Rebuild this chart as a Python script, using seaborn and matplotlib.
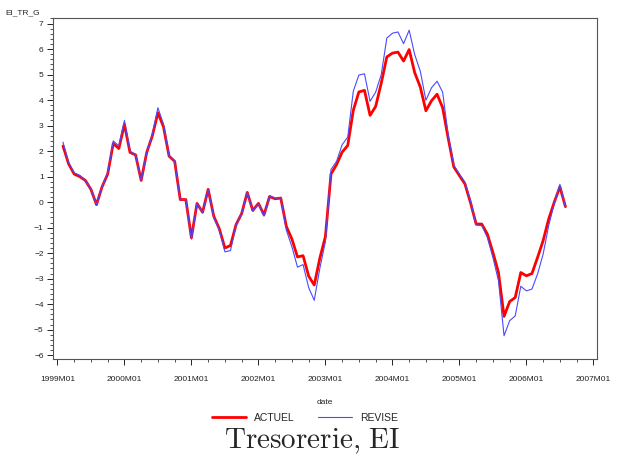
import matplotlib
matplotlib.use("Agg")
import matplotlib.pyplot as plt
import numpy as np
import pandas as pd
import seaborn as sns
from matplotlib.ticker import MultipleLocator

# data - monthly, 1999M02 .. 2006M08 (month index from 1999M01 = 0)
months = list(range(1, 92))
actuel = [2.2, 1.5, 1.1, 1.0, 0.85, 0.5, -0.1, 0.6, 1.1, 2.3, 2.1, 3.05,
          1.95, 1.85, 0.85, 1.95, 2.6, 3.5, 2.95, 1.8, 1.6, 0.1, 0.1, -1.4,
          -0.05, -0.4, 0.5, -0.55, -1.05, -1.8, -1.7, -0.88, -0.45, 0.38, -0.33, -0.05,
          -0.5, 0.22, 0.13, 0.16, -0.95, -1.45, -2.15, -2.1, -2.9, -3.25, -2.2, -1.35,
          1.1, 1.47, 1.96, 2.22, 3.6, 4.32, 4.38, 3.4, 3.75, 4.66, 5.69, 5.84,
          5.88, 5.53, 5.98, 5.07, 4.51, 3.58, 3.97, 4.23, 3.7, 2.5, 1.38, 1.04,
          0.71, -0.03, -0.86, -0.86, -1.25, -1.97, -2.76, -4.48, -3.9, -3.74, -2.76, -2.89,
          -2.8, -2.17, -1.51, -0.66, 0.0, 0.6, -0.18]
revise = [2.35, 1.55, 1.15, 1.05, 0.85, 0.5, -0.1, 0.6, 1.15, 2.4, 2.2, 3.2,
          2.0, 1.85, 0.85, 1.95, 2.65, 3.7, 3.05, 1.8, 1.6, 0.1, 0.1, -1.45,
          -0.05, -0.4, 0.5, -0.6, -1.1, -1.95, -1.9, -0.9, -0.45, 0.38, -0.35, -0.05,
          -0.55, 0.25, 0.15, 0.18, -1.1, -1.75, -2.55, -2.45, -3.35, -3.85, -2.6, -1.55,
          1.28, 1.6, 2.25, 2.55, 4.35, 4.98, 5.03, 3.95, 4.31, 5.0, 6.43, 6.62,
          6.67, 6.21, 6.74, 5.78, 5.13, 3.99, 4.48, 4.74, 4.31, 2.62, 1.45, 1.1,
          0.78, 0.05, -0.9, -0.92, -1.38, -2.17, -3.08, -5.24, -4.65, -4.46, -3.3, -3.48,
          -3.41, -2.82, -2.04, -0.92, -0.05, 0.7, -0.2]
year_labels = ["1999M01", "2000M01", "2001M01", "2002M01", "2003M01",
               "2004M01", "2005M01", "2006M01", "2007M01"]

df = pd.DataFrame({"date": months, "ACTUEL": actuel, "REVISE": revise})

sns.set_style("white")
plt.rcParams["font.family"] = ["Liberation Sans", "DejaVu Sans"]
plt.rcParams["mathtext.fontset"] = "cm"

fig = plt.figure(figsize=(6.24, 4.61), dpi=100)
ax = fig.add_axes([0.0855, 0.2213, 0.8708, 0.7387])

sns.lineplot(data=df, x="date", y="ACTUEL", color="#ff0000", linewidth=2.0, ax=ax, label="ACTUEL")
sns.lineplot(data=df, x="date", y="REVISE", color="#4a4aff", linewidth=0.8, ax=ax, label="REVISE")

ax.set_xlim(-0.73, 96.6)
ax.set_ylim(-6.15, 7.2)
ax.set_xticks(range(0, 97, 12))
ax.set_xticklabels(year_labels)
ax.xaxis.set_minor_locator(MultipleLocator(3))
ax.yaxis.set_major_locator(MultipleLocator(1))
ax.yaxis.set_minor_locator(MultipleLocator(0.2))
ax.tick_params(axis="both", which="major", direction="out", length=4, width=0.7,
               labelsize=6, colors="#222222", bottom=True, left=True, pad=3)
ax.tick_params(axis="both", which="minor", direction="out", length=2.2, width=0.6,
               bottom=True, left=True, colors="#333333")
ax.tick_params(axis="x", pad=8)
for s in ax.spines.values():
    s.set_color("#555555")
    s.set_linewidth(0.8)

ax.set_xlabel("date", fontsize=6, labelpad=12)
ax.set_ylabel("")
fig.text(0.008, 1 - 13 / 461, "EI_TR_G", fontsize=6, va="center", ha="left")

ax.get_legend().remove()
handles, labels = ax.get_legend_handles_labels()
fig.legend(handles, labels, loc="center", bbox_to_anchor=(0.489, 1 - 418 / 461), ncol=2,
           frameon=False, fontsize=7.5, handlelength=3.2, columnspacing=2.3, handletextpad=0.8)

fig.text(0.5, 1 - 441 / 461, r"$\mathrm{Tresorerie{,}\ EI}$", fontsize=21, ha="center", va="center")

fig.savefig("out.png", dpi=100)
